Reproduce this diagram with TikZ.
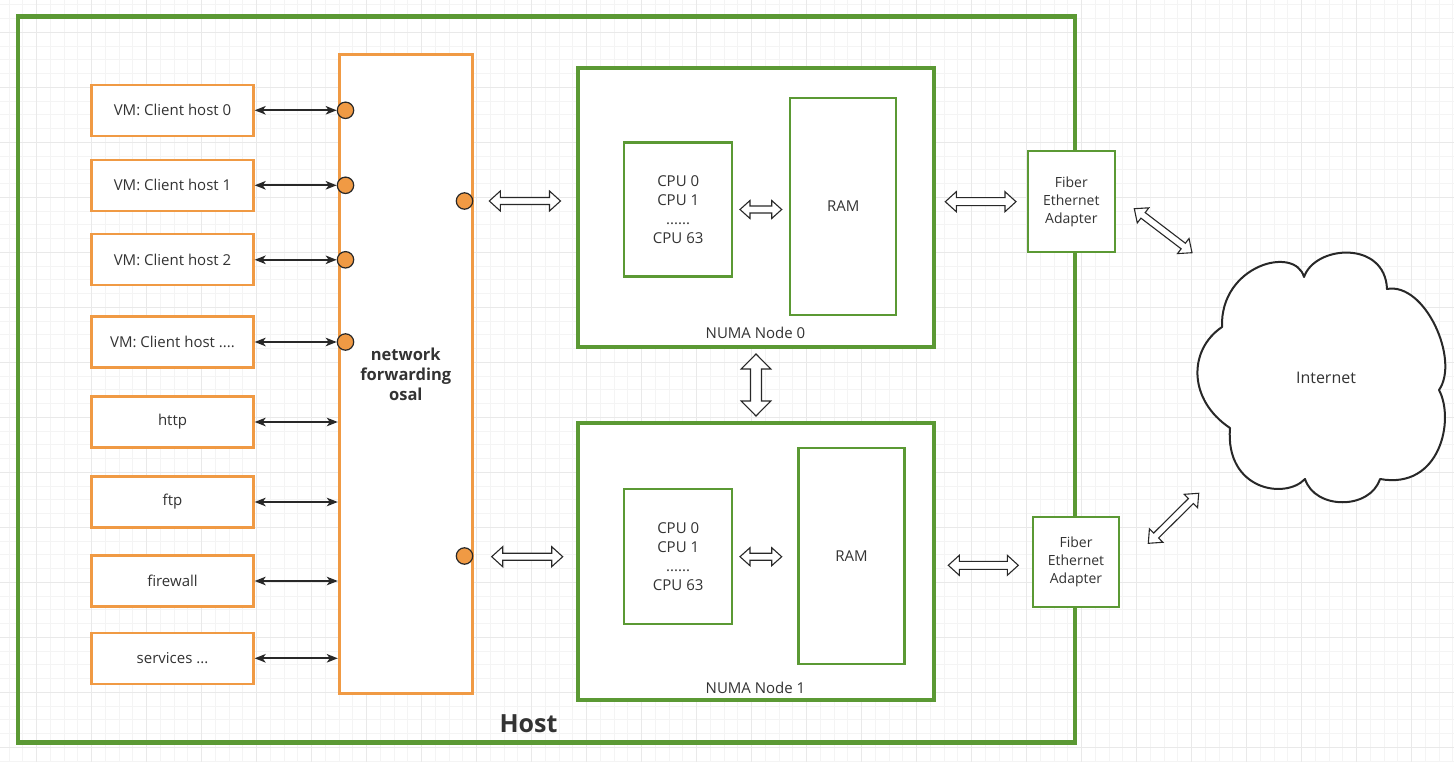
\documentclass[tikz,border=0pt]{standalone}
\usepackage{fontspec}
\setmainfont{Open Sans}
\usetikzlibrary{arrows.meta,calc}
\definecolor{grn}{RGB}{91,153,52}
\definecolor{orng}{RGB}{240,154,68}
\definecolor{txt}{RGB}{51,51,51}
\definecolor{dk}{RGB}{40,40,40}
\definecolor{gminor}{RGB}{244,244,244}
\definecolor{gmajor}{RGB}{233,233,233}
% #1 shaft half-width, #2 head half-width, #3 head length, #4 start, #5 end
\newcommand\flexarw[5]{%
  \draw[blockarr] let \p1=(#4), \p2=(#5), \n1={atan2(\y2-\y1,\x2-\x1)} in
    (#4) -- ($(#4)+(\n1:#3)+({\n1+90}:#2)$) -- ($(#4)+(\n1:#3)+({\n1+90}:#1)$)
    -- ($(#5)+({\n1+180}:#3)+({\n1+90}:#1)$) -- ($(#5)+({\n1+180}:#3)+({\n1+90}:#2)$)
    -- (#5) -- ($(#5)+({\n1+180}:#3)+({\n1-90}:#2)$) -- ($(#5)+({\n1+180}:#3)+({\n1-90}:#1)$)
    -- ($(#4)+(\n1:#3)+({\n1-90}:#1)$) -- ($(#4)+(\n1:#3)+({\n1-90}:#2)$) -- cycle;}
\begin{document}
\begin{tikzpicture}[x=1pt,y=-1pt,
  base/.style={font=\fontsize{15}{19}\selectfont, text=txt, align=center, inner sep=0pt},
  obox/.style={base, draw=orng, line width=2.3pt, fill=white},
  vmbox/.style={obox, minimum width=162pt, minimum height=51pt},
  netbox/.style={draw=orng, line width=3pt, fill=white, minimum width=133pt, minimum height=639pt,
     inner sep=0pt, align=center, text=txt, font=\bfseries\fontsize{16.5}{20}\selectfont},
  numabox/.style={draw=grn, line width=4pt, fill=white, minimum width=356pt},
  gbox/.style={base, draw=grn, line width=2.3pt, fill=white},
  hostbox/.style={draw=grn, line width=4.6pt, minimum width=1057pt, minimum height=726pt},
  port/.style={circle, draw=dk, line width=1.2pt, fill=orng, minimum size=16.4pt, inner sep=0pt},
  sarrow/.style={draw=dk, line width=1.8pt,
     {Stealth[length=11pt,width=8.5pt,inset=3pt]}-{Stealth[length=11pt,width=8.5pt,inset=3pt]}},
  blockarr/.style={draw=dk, line width=1.1pt, fill=white, line join=miter},
  lbl/.style={base}]
\useasboundingbox (0,0) rectangle (1454,762);
\fill[white] (0,0) rectangle (1454,762);
% grid
\foreach \i in {0,...,105}{\pgfmathsetmacro\gx{9.2+13.75*\i}\draw[gminor,line width=1pt] (\gx,0) -- (\gx,762);}
\foreach \i in {0,...,55}{\pgfmathsetmacro\gy{4.8+13.75*\i}\draw[gminor,line width=1pt] (0,\gy) -- (1454,\gy);}
\foreach \i in {0,...,25}{\pgfmathsetmacro\gx{36.7+55*\i}\draw[gmajor,line width=1pt] (\gx,0) -- (\gx,762);}
\foreach \i in {0,...,13}{\pgfmathsetmacro\gy{32.3+55*\i}\draw[gmajor,line width=1pt] (0,\gy) -- (1454,\gy);}

% host
\node[hostbox] (host) at (546.5,379.6) {};
\node[font=\bfseries\fontsize{25}{30}\selectfont, text=txt, inner sep=0pt] (hostlbl) at (528.5,724) {Host};

% left boxes
\node[vmbox] (vm0) at (172.5,110.3) {VM: Client host 0};
\node[vmbox] (vm1) at (172.5,185.3) {VM: Client host 1};
\node[vmbox] (vm2) at (172.5,259.8) {VM: Client host 2};
\node[vmbox] (vm3) at (172.5,342) {VM: Client host ....};
\node[vmbox] (http) at (172.5,422) {http};
\node[vmbox] (ftp) at (172.5,502) {ftp};
\node[vmbox] (fw) at (172.5,581) {firewall};
\node[vmbox] (svc) at (172.5,658.3) {services ...};

% network box
\node[netbox] (net) at (405.8,374.3) {network\\forwarding\\osal};
\node[port] (p0) at (345.5,110.3) {};
\node[port] (p1) at (345.5,185.3) {};
\node[port] (p2) at (345.5,259.8) {};
\node[port] (p3) at (345.5,342) {};
\node[port] (q0) at (464.5,201) {};
\node[port] (q1) at (464.5,556) {};

\draw[sarrow] (vm0.east) -- (p0.west);
\draw[sarrow] (vm1.east) -- (p1.west);
\draw[sarrow] (vm2.east) -- (p2.west);
\draw[sarrow] (vm3.east) -- (p3.west);
\draw[sarrow] (http.east) -- (http.east -| net.west);
\draw[sarrow] (ftp.east) -- (ftp.east -| net.west);
\draw[sarrow] (fw.east) -- (fw.east -| net.west);
\draw[sarrow] (svc.east) -- (svc.east -| net.west);

% NUMA nodes
\node[numabox, minimum height=279pt] (numa0) at (755.5,207.7) {};
\node[lbl] (numa0lbl) at (755.5,333.3) {NUMA Node 0};
\node[gbox, minimum width=108pt, minimum height=134pt] (cpu0) at (678.2,209.5) {CPU 0\\CPU 1\\......\\CPU 63};
\node[gbox, minimum width=106pt, minimum height=217pt] (ram0) at (843.3,206.5) {RAM};

\node[numabox, minimum height=277pt] (numa1) at (755.5,561.3) {};
\node[lbl] (numa1lbl) at (755.5,688.3) {NUMA Node 1};
\node[gbox, minimum width=108pt, minimum height=135pt] (cpu1) at (678.2,556.2) {CPU 0\\CPU 1\\......\\CPU 63};
\node[gbox, minimum width=106pt, minimum height=216pt] (ram1) at (851.6,556) {RAM};

% fiber adapters
\node[gbox, minimum width=87pt, minimum height=101pt, font=\fontsize{14}{18.3}\selectfont] (fib0) at (1071.3,201.7) {Fiber\\Ethernet\\Adapter};
\node[gbox, minimum width=86.5pt, minimum height=90.5pt, font=\fontsize{14}{18.3}\selectfont] (fib1) at (1076,562) {Fiber\\Ethernet\\Adapter};

% cloud
\draw[draw=dk, line width=2pt, fill=white, line join=round]
  (1222,327) .. controls (1220,265) and (1295,245) .. (1304,277)
  .. controls (1315,245) and (1385,240) .. (1387,289)
  .. controls (1425,282) and (1460,360) .. (1439,390)
  .. controls (1455,420) and (1440,490) .. (1380,479)
  .. controls (1370,510) and (1315,510) .. (1305,479)
  .. controls (1285,500) and (1225,490) .. (1230,428)
  .. controls (1188,400) and (1188,350) .. cycle;
\node[lbl, font=\fontsize{16}{19}\selectfont] (inet) at (1326,378) {Internet};

% block arrow end points
\coordinate (a1s) at (489.3,201);   \coordinate (a1e) at (560.5,201);
\coordinate (a2s) at (740,209.5);   \coordinate (a2e) at (781.7,209.5);
\coordinate (a3s) at (945.3,201.7); \coordinate (a3e) at (1016,201.7);
\coordinate (a4s) at (756,354);     \coordinate (a4e) at (756,416);
\coordinate (a5s) at (1134.3,208.7);\coordinate (a5e) at (1192,252.7);
\coordinate (a6s) at (1148.3,543.3);\coordinate (a6e) at (1198.7,493.3);
\coordinate (a7s) at (491.7,556.7); \coordinate (a7e) at (562.7,556.7);
\coordinate (a8s) at (740,556.7);   \coordinate (a8e) at (781.7,556.7);
\coordinate (a9s) at (948.3,565.3); \coordinate (a9e) at (1018.3,565.3);

\flexarw{3.5pt}{10pt}{11pt}{a1s}{a1e}
\flexarw{3.5pt}{9pt}{10pt}{a2s}{a2e}
\flexarw{4pt}{10pt}{11pt}{a3s}{a3e}
\flexarw{5.5pt}{14.8pt}{15pt}{a4s}{a4e}
\flexarw{3.5pt}{9.5pt}{11pt}{a5s}{a5e}
\flexarw{3.5pt}{9.5pt}{11pt}{a6s}{a6e}
\flexarw{3.5pt}{10pt}{11pt}{a7s}{a7e}
\flexarw{3.5pt}{9pt}{10pt}{a8s}{a8e}
\flexarw{4pt}{10pt}{11pt}{a9s}{a9e}
\end{tikzpicture}
\end{document}
